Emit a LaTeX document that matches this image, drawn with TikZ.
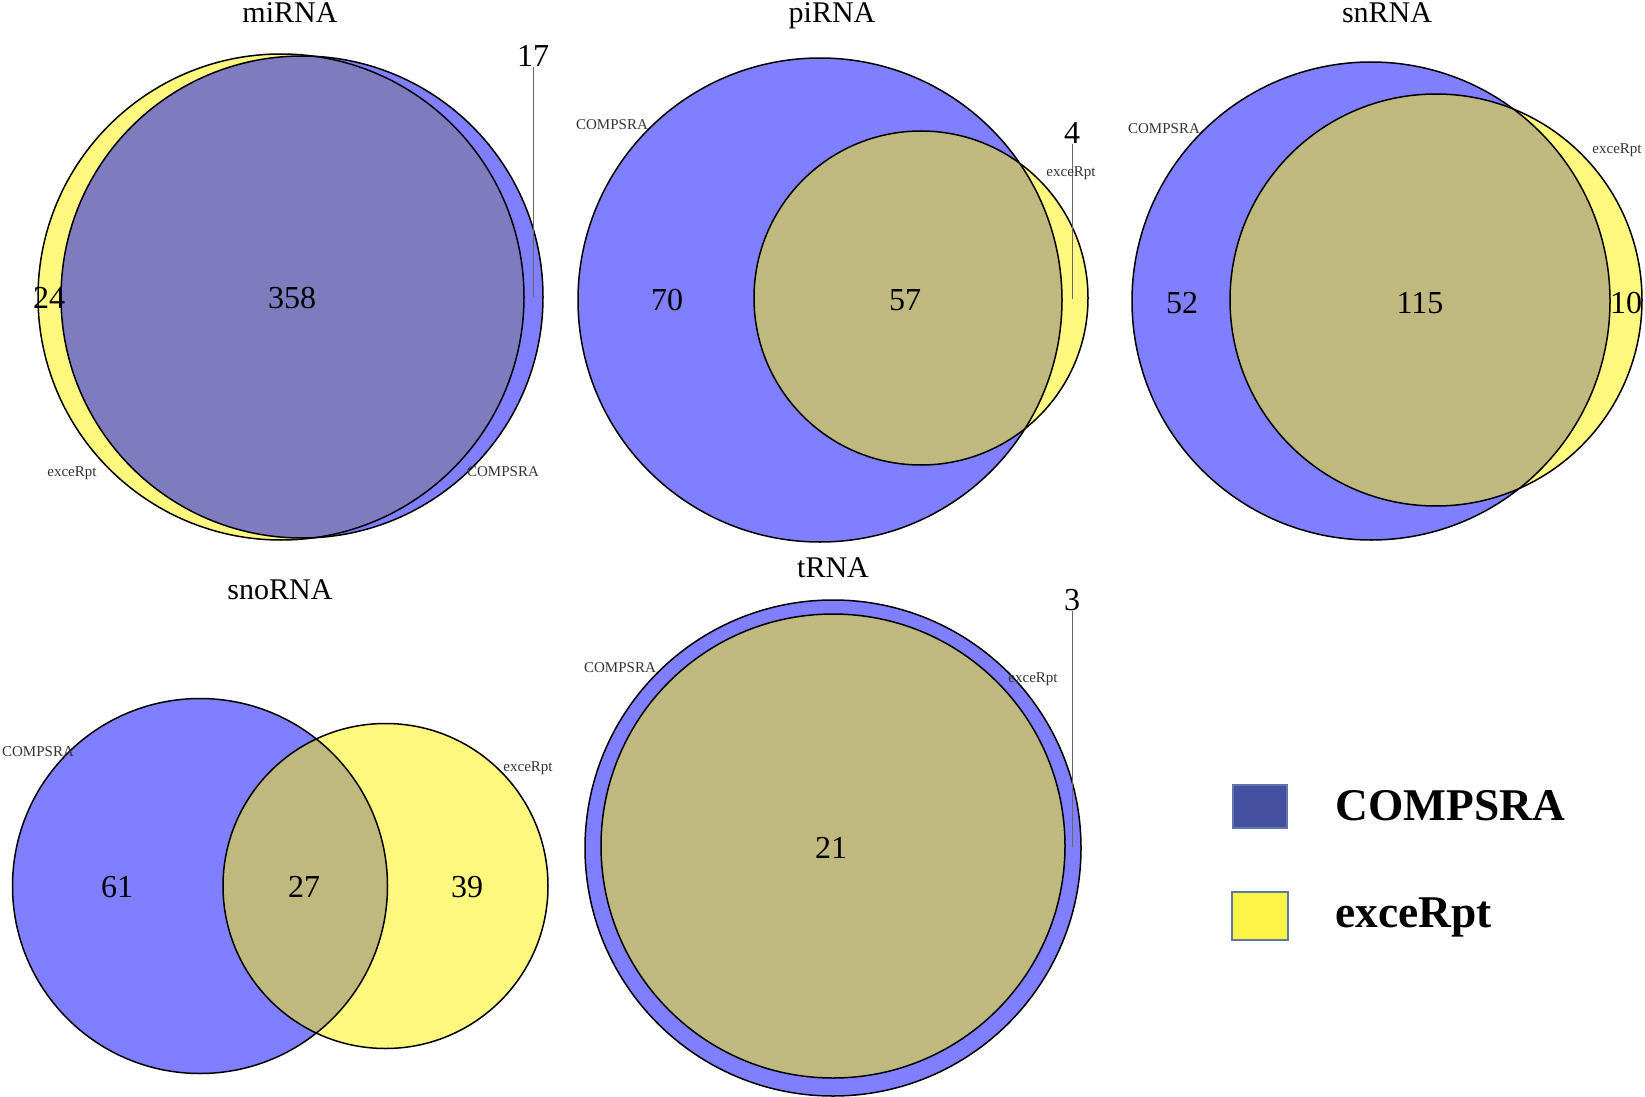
\documentclass[tikz,border=0pt]{standalone}
\usepackage{fontspec}
\setmainfont{Liberation Serif}
\definecolor{legblue}{RGB}{70,80,160}
\definecolor{legyel}{RGB}{255,245,70}
\definecolor{legedge}{RGB}{95,120,170}
\begin{document}
\begin{tikzpicture}[x=0.5pt,y=-0.5pt,
 fb/.style={fill=blue, fill opacity=0.5},
 fy/.style={fill=yellow, fill opacity=0.5},
 ol/.style={draw=black, line width=0.75pt},
 ttl/.style={font=\fontsize{15}{17}\selectfont, inner sep=0pt, anchor=base},
 num/.style={font=\fontsize{16}{18}\selectfont, inner sep=0pt},
 sml/.style={font=\fontsize{7.5}{8.5}\selectfont, text=black!80, inner sep=0pt},
 lead/.style={draw=black!60, line width=0.5pt},
 legtxt/.style={font=\bfseries\fontsize{22.7}{26}\selectfont, anchor=base west, inner sep=0pt},
 legbox/.style={draw=legedge, line width=0.6pt, inner sep=0pt}]
\useasboundingbox (0,0) rectangle (1645,1097);
\fill[white] (0,0) rectangle (1645,1097);

% ---------------- miRNA ----------------
\path[fy] (281,297) circle (243);
\path[fb] (302,297) circle (241);
\path[ol] (281,297) circle (243);
\path[ol] (302,297) circle (241);
\node[ttl] (tmi) at (290,23) {miRNA};
\node[num] (mi17) at (533,56) {17};
\coordinate (mi17e) at (533,297);
\draw[lead] (mi17.south) -- (mi17e);
\node[num] (mi24) at (49,298) {24};
\node[num] (mi358) at (292,298) {358};
\node[sml] (miex) at (72,473) {exceRpt};
\node[sml] (mico) at (503,472) {COMPSRA};

% ---------------- piRNA ----------------
\path[fb] (820,300) circle (242);
\path[fy] (921,298) circle (167);
\path[ol] (820,300) circle (242);
\path[ol] (921,298) circle (167);
\node[ttl] (tpi) at (832,23) {piRNA};
\node[num] (pi70) at (667,300) {70};
\node[num] (pi57) at (905,300) {57};
\node[num] (pi4) at (1072,133) {4};
\coordinate (pi4e) at (1072,299);
\draw[lead] (pi4.south) -- (pi4e);
\node[sml] (piex) at (1071,173) {exceRpt};
\node[sml] (pico) at (612,125) {COMPSRA};

% ---------------- snRNA ----------------
\path[fb] (1371,301) circle (239);
\path[fy] (1436,300) circle (206);
\path[ol] (1371,301) circle (239);
\path[ol] (1436,300) circle (206);
\node[ttl] (tsn) at (1387,23) {snRNA};
\node[num] (sn52) at (1182,303) {52};
\node[num] (sn115) at (1420,303) {115};
\node[num] (sn10) at (1626,303) {10};
\node[sml] (snco) at (1164,129) {COMPSRA};
\node[sml] (snex) at (1617,150) {exceRpt};

% ---------------- snoRNA ----------------
\path[fb] (200,886) circle (187.5);
\path[fy] (385.5,886) circle (162.5);
\path[ol] (200,886) circle (187.5);
\path[ol] (385.5,886) circle (162.5);
\node[ttl] (tsno) at (280,599) {snoRNA};
\node[num] (sno61) at (117,887) {61};
\node[num] (sno27) at (304,887) {27};
\node[num] (sno39) at (467,887) {39};
\node[sml] (snoco) at (38,752) {COMPSRA};
\node[sml] (snoex) at (528,768) {exceRpt};

% ---------------- tRNA ----------------
\path[fb] (833,848) circle (248);
\path[fy] (833,846) circle (232);
\path[ol] (833,848) circle (248);
\path[ol] (833,846) circle (232);
\node[ttl] (tt) at (833,577) {tRNA};
\node[num] (t21) at (831,848) {21};
\node[num] (t3) at (1072,600) {3};
\coordinate (t3e) at (1072,847);
\draw[lead] (t3.south) -- (t3e);
\node[sml] (tco) at (620,668) {COMPSRA};
\node[sml] (tex) at (1033,679) {exceRpt};

% ---------------- legend ----------------
\node[legbox, fill=legblue, minimum width=27pt, minimum height=21.5pt] (lb) at (1260,806.5) {};
\node[legbox, fill=legyel, minimum width=28pt, minimum height=24pt] (ly) at (1260,916) {};
\node[legtxt] (lbt) at (1335,820) {COMPSRA};
\node[legtxt] (lyt) at (1335,927) {exceRpt};
\end{tikzpicture}
\end{document}
